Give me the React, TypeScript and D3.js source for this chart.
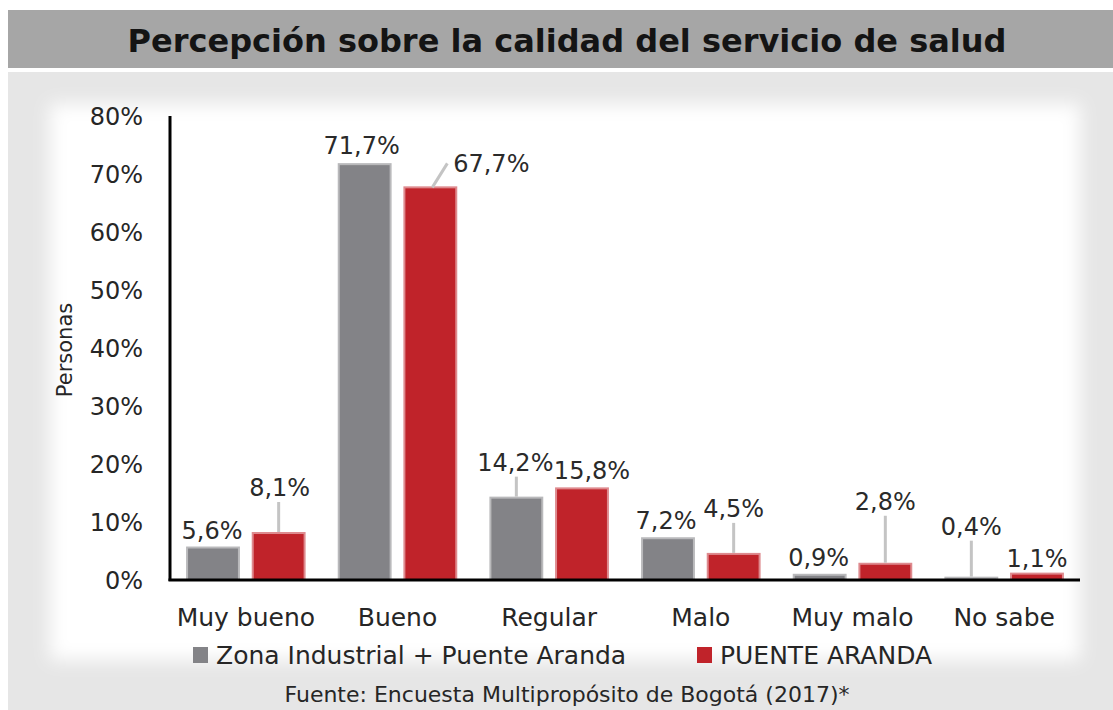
import { useEffect, useRef } from "react"
import * as d3 from "d3"

const categories = ["Muy bueno", "Bueno", "Regular", "Malo", "Muy malo", "No sabe"]
const seriesNames = ["Zona Industrial + Puente Aranda", "PUENTE ARANDA"]
const zonaValues = [5.6, 71.7, 14.2, 7.2, 0.9, 0.4]
const puenteValues = [8.1, 67.7, 15.8, 4.5, 2.8, 1.1]
const yTicks = [0, 10, 20, 30, 40, 50, 60, 70, 80]

// label placement: [dx from bar centre, baseline distance above bar top, leader]
const zonaLabelPos: [number, number, boolean][] = [
    [-1, 9, false], [-3, 10, false], [-1, 27, true], [-2, 9, false], [-1, 9, false], [0, 43, true],
]
const puenteLabelPos: [number, number, boolean][] = [
    [1, 37, true], [61, 15, true], [10, 9, false], [0, 37, true], [0, 54, true], [0, 7, false],
]

const colors = ["#838387", "#c0232a"]
const edgeColors = ["#b9b9bb", "#de8a8e"]
const FONT = "'DejaVu Sans', Verdana, sans-serif"

export default function App() {
    const ref = useRef<SVGSVGElement | null>(null)

    useEffect(() => {
        const svg = d3.select(ref.current)
        svg.selectAll("*").remove()

        const W = 1113
        const H = 710
        const margin = { left: 170, right: 33, top: 116, bottom: 130 }

        const defs = svg.append("defs")
        defs.append("filter")
            .attr("id", "soft")
            .attr("x", "-10%").attr("y", "-10%").attr("width", "120%").attr("height", "120%")
            .append("feGaussianBlur")
            .attr("stdDeviation", 9)

        // backgrounds
        svg.append("rect").attr("width", W).attr("height", H).attr("fill", "#ffffff")
        svg.append("rect").attr("x", 8).attr("y", 10).attr("width", W - 8).attr("height", 58).attr("fill", "#a6a6a6")
        svg.append("rect").attr("x", 8).attr("y", 72).attr("width", W - 8).attr("height", H - 72).attr("fill", "#e6e6e6")
        svg.append("rect")
            .attr("x", 50).attr("y", 104).attr("width", 1030).attr("height", 556)
            .attr("fill", "#ffffff")
            .attr("filter", "url(#soft)")

        svg.append("text")
            .attr("x", 567)
            .attr("y", 52)
            .attr("text-anchor", "middle")
            .attr("font-family", FONT)
            .attr("font-weight", "bold")
            .attr("font-size", 32)
            .attr("fill", "#141414")
            .text("Percepción sobre la calidad del servicio de salud")

        const x0 = d3.scaleBand<string>()
            .domain(categories)
            .range([margin.left, W - margin.right])

        const x1 = d3.scaleBand<number>()
            .domain([0, 1])
            .range([0, x0.bandwidth()])
            .paddingInner(0.21)
            .paddingOuter(0.26)

        const y = d3.scaleLinear()
            .domain([0, 80])
            .range([580, margin.top])

        const g = svg.append("g")

        // y tick labels
        g.append("g")
            .selectAll("text")
            .data(yTicks)
            .join("text")
            .attr("x", 143)
            .attr("y", d => y(d))
            .attr("dy", "0.36em")
            .attr("text-anchor", "end")
            .attr("font-family", FONT)
            .attr("font-size", 24)
            .attr("fill", "#262626")
            .text(d => `${d}%`)

        svg.append("text")
            .attr("transform", `translate(72,${350}) rotate(-90)`)
            .attr("text-anchor", "middle")
            .attr("font-family", FONT)
            .attr("font-size", 21)
            .attr("fill", "#262626")
            .text("Personas")

        const seriesValues = [zonaValues, puenteValues]
        const labelPos = [zonaLabelPos, puenteLabelPos]

        seriesValues.forEach((vals, si) => {
            const bars = vals.map((v, i) => ({ cat: categories[i], v, i }))
            g.append("g")
                .selectAll("rect")
                .data(bars)
                .join("rect")
                .attr("x", d => (x0(d.cat) ?? 0) + (x1(si) ?? 0))
                .attr("y", d => y(d.v))
                .attr("width", x1.bandwidth())
                .attr("height", d => y(0) - y(d.v))
                .attr("fill", colors[si])
                .attr("stroke", edgeColors[si])
                .attr("stroke-width", 2)
        })

        // leaders and value labels
        seriesValues.forEach((vals, si) => {
            vals.forEach((v, i) => {
                const cx = (x0(categories[i]) ?? 0) + (x1(si) ?? 0) + x1.bandwidth() / 2
                const top = y(v)
                const [dx, dy, leader] = labelPos[si][i]
                const lx = cx + dx
                const ly = top - dy
                if (leader) {
                    if (Math.abs(dx) > 20) {
                        g.append("line")
                            .attr("x1", cx + 2).attr("y1", top)
                            .attr("x2", lx - 44).attr("y2", ly - 9)
                            .attr("stroke", "#c4c4c4").attr("stroke-width", 3)
                    } else {
                        g.append("line")
                            .attr("x1", cx).attr("y1", top - 1)
                            .attr("x2", cx).attr("y2", ly + 6)
                            .attr("stroke", "#c4c4c4").attr("stroke-width", 3)
                    }
                }
                g.append("text")
                    .attr("x", lx)
                    .attr("y", ly)
                    .attr("text-anchor", "middle")
                    .attr("font-family", FONT)
                    .attr("font-size", 24)
                    .attr("fill", "#2a2a2a")
                    .text(`${v.toFixed(1).replace(".", ",")}%`)
            })
        })

        // axes lines
        g.append("line")
            .attr("x1", margin.left).attr("x2", margin.left)
            .attr("y1", margin.top).attr("y2", 581)
            .attr("stroke", "#000").attr("stroke-width", 3)
        g.append("line")
            .attr("x1", margin.left - 1.5).attr("x2", W - margin.right)
            .attr("y1", 580).attr("y2", 580)
            .attr("stroke", "#000").attr("stroke-width", 3)

        // category labels
        g.append("g")
            .selectAll("text")
            .data(categories)
            .join("text")
            .attr("x", d => (x0(d) ?? 0) + x0.bandwidth() / 2)
            .attr("y", 626)
            .attr("text-anchor", "middle")
            .attr("font-family", FONT)
            .attr("font-size", 25)
            .attr("fill", "#262626")
            .text(d => d)

        // legend
        const legendX = [193, 697]
        seriesNames.forEach((name, si) => {
            svg.append("rect")
                .attr("x", legendX[si]).attr("y", 647)
                .attr("width", 15).attr("height", 16)
                .attr("fill", colors[si])
            svg.append("text")
                .attr("x", legendX[si] + 23)
                .attr("y", 664)
                .attr("font-family", FONT)
                .attr("font-size", 25)
                .attr("fill", "#262626")
                .text(name)
        })

        svg.append("text")
            .attr("x", 567)
            .attr("y", 702)
            .attr("text-anchor", "middle")
            .attr("font-family", FONT)
            .attr("font-size", 22)
            .attr("fill", "#262626")
            .text("Fuente: Encuesta Multipropósito de Bogotá (2017)*")
    }, [])

    return (
        <svg
            ref={ref}
            width={1113}
            height={710}
            style={{ position: "absolute", left: 0, top: 0 }}
        />
    )
}
